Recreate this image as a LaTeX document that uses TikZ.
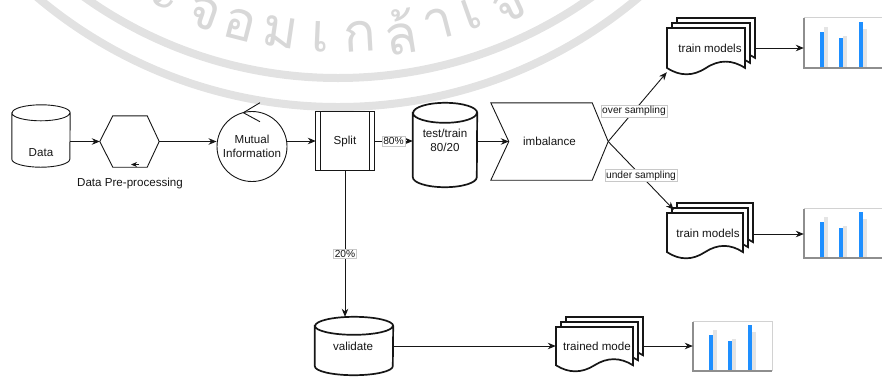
\documentclass[tikz,border=0pt]{standalone}
\usepackage{fontspec}
\setmainfont{Liberation Sans}
\newfontfamily\thaifont[Script=Thai]{Loma}
\usetikzlibrary{arrows.meta,calc}

\definecolor{ink}{HTML}{161616}
\definecolor{wmgray}{HTML}{E2E2E2}
\definecolor{wmtext}{HTML}{D8D8D8}
\definecolor{barblue}{HTML}{1E8FFF}
\definecolor{bargray}{HTML}{E4E4E4}
\definecolor{axisgray}{HTML}{8E8E8E}
\definecolor{framegray}{HTML}{D2D2D2}
\definecolor{lblframe}{HTML}{C8C8C8}

\tikzset{
  box/.style 2 args={rectangle, inner sep=0pt, minimum width=#1, minimum height=#2},
  txt/.style={inner sep=0pt, font=\fontsize{11.6}{14}\selectfont, text=ink, align=center},
  lbl/.style={fill=white, draw=lblframe, line width=0.5pt, inner sep=1.3pt,
              font=\fontsize{10.2}{12}\selectfont, text=ink},
  conn/.style={draw=ink, line width=0.9pt, -{Stealth[length=8pt,width=6.5pt]}},
  thinline/.style={draw=ink, line width=0.9pt},
  boldline/.style={draw=ink, line width=1.7pt, fill=white},
  wmletter/.style={inner sep=0pt, text=wmtext, font=\thaifont\fontsize{54}{60}\selectfont},
}

% vertical cylinder around a named box: style, node, x radius, y radius
\newcommand\cylinderline[4]{%
  \draw[#1] ([yshift=-#4pt]#2.north west) -- ([yshift=#4pt]#2.south west)
    arc[start angle=180,end angle=360,x radius=#3,y radius=#4]
    -- ([yshift=-#4pt]#2.north east)
    arc[start angle=0,end angle=180,x radius=#3,y radius=#4] -- cycle
    ([yshift=-#4pt]#2.north west) arc[start angle=180,end angle=360,x radius=#3,y radius=#4];}

% one sheet with a wavy lower edge: left, top, width, height (top-down units)
\newcommand\docsheet[4]{%
  \draw[boldline] ({#1},{-(#2)}) -- ({#1+#3},{-(#2)}) -- ({#1+#3},{-(#2+0.85*#4)})
    .. controls ({#1+0.8333*#3},{-(#2+0.67*#4)}) and ({#1+0.6667*#3},{-(#2+0.67*#4)}) .. ({#1+0.5*#3},{-(#2+0.85*#4)})
    .. controls ({#1+0.3333*#3},{-(#2+1.03*#4)}) and ({#1+0.1667*#3},{-(#2+1.03*#4)}) .. ({#1},{-(#2+0.85*#4)})
    -- cycle;}
\newcommand\sheetstack[4]{%
  \docsheet{#1+10}{#2-10}{#3}{#4}\docsheet{#1+5}{#2-5}{#3}{#4}\docsheet{#1}{#2}{#3}{#4}}

% small bar chart inside a named box
\newcommand\barchart[1]{%
  \draw[framegray, line width=0.8pt] (#1.north west) -- (#1.north east) -- (#1.south east);
  \fill[bargray] ($(#1.south west)+(20,0)$) rectangle ++(4,41);
  \fill[bargray] ($(#1.south west)+(39,0)$) rectangle ++(4,32);
  \fill[bargray] ($(#1.south west)+(59,0)$) rectangle ++(4,39);
  \fill[barblue] ($(#1.south west)+(16,0)$) rectangle ++(4,36);
  \fill[barblue] ($(#1.south west)+(35,0)$) rectangle ++(4,30);
  \fill[barblue] ($(#1.south west)+(55,0)$) rectangle ++(4,46);
  \draw[axisgray, line width=1.6pt] (#1.north west) -- (#1.south west) -- (#1.south east);}

\begin{document}
\begin{tikzpicture}[x=1pt, y=1pt]
\useasboundingbox (0,0) rectangle (882,-384);

% university seal in the background
\begin{scope}
  \clip (0,0) rectangle (882,-384);
  \coordinate (seal) at (338,360);
  \draw[wmgray, line width=8pt] (seal) circle[radius=438];
  \draw[wmgray, line width=8pt] (seal) circle[radius=467];
  \foreach \ang/\ch [count=\i] in {-32/ร, -25.8/ะ, -19.6/จ, -14.3/อ, -8.4/ม, -2.6/เ, 3.2/ก, 9.0/ล้, 14.6/า, 19.6/เ, 25.1/จ้, 30.5/า}
    \node[wmletter, rotate=\ang] (seal-\i) at ($(seal)+({-90+\ang}:397)$) {\ch};
\end{scope}

% shapes
\node[box={58pt}{62pt}] (data) at (41,-136) {};
\cylinderline{thinline}{data}{29}{8}
\node[txt] (data-t) at (41,-153) {Data};

\node[box={59pt}{51pt}] (hex) at (129.5,-141.5) {};
\draw[thinline] (hex.west) -- ([xshift=13pt]hex.north west) -- ([xshift=-12pt]hex.north east)
  -- (hex.east) -- ([xshift=-12pt]hex.south east) -- ([xshift=13pt]hex.south west) -- cycle;
\draw[draw=ink, line width=0.6pt, -{Stealth[length=6pt,width=5pt]}] (139,-164.5) -- (131,-164.5);
\node[txt] (hex-t) at (130,-183) {Data Pre-processing};

\node[circle, thinline, minimum size=70pt, inner sep=0pt, txt] (mi) at (252,-146.5) {Mutual\\Information};
\draw[thinline] (260,-102.7) -- (243.3,-112.7) -- (260,-121.7);

\node[box={58pt}{58pt}, txt] (split) at (345,-141) {Split};
\draw[thinline] (split.north west) rectangle (split.south east);
\draw[thinline] ([xshift=5pt]split.north west) -- ([xshift=5pt]split.south west);
\draw[thinline] ([xshift=-5pt]split.north east) -- ([xshift=-5pt]split.south east);

\node[box={64pt}{84pt}] (tt) at (445,-145) {};
\cylinderline{boldline}{tt}{32}{10}
\node[txt] (tt-t) at (445,-140) {test/train\\80/20};

\node[box={117pt}{77pt}, txt] (imb) at (549.5,-141.5) {imbalance};
\draw[thinline] (imb.north west) -- ([xshift=-16pt]imb.north east) -- (imb.east)
  -- ([xshift=-16pt]imb.south east) -- (imb.south west) -- ([xshift=18pt]imb.west) -- cycle;

\node[box={78pt}{58pt}] (val) at (354,-346) {};
\cylinderline{boldline}{val}{39}{9}
\node[txt] (val-t) at (353,-346) {validate};

\sheetstack{667}{28}{78}{47}
\node[box={78pt}{47pt}] (tm1) at (706,-51.5) {};
\node[txt] (tm1-t) at (710,-48) {train models};

\sheetstack{667}{213}{76}{46}
\node[box={76pt}{46pt}] (tm2) at (705,-236) {};
\node[txt] (tm2-t) at (708,-233) {train models};

\sheetstack{556}{327}{77}{45}
\node[box={77pt}{45pt}] (trn) at (594.5,-349.5) {};
\node[txt] (trn-t) at (597,-346) {trained mode};

\node[box={79pt}{50pt}] (ch1) at (843.5,-43) {};
\barchart{ch1}
\node[box={79pt}{49pt}] (ch2) at (843.5,-233.5) {};
\barchart{ch2}
\node[box={79pt}{49pt}] (ch3) at (732.5,-346.5) {};
\barchart{ch3}

% connectors
\draw[conn] ([yshift=-5.5pt]data.east) -- (hex.west);
\draw[conn] (hex.east) -- (hex.east -| mi.west);
\draw[conn] (split.west -| mi.east) -- (split.west);
\draw[conn] (split.east) -- (split.east -| tt.west) node[lbl, midway] (l80) {80\%};
\draw[conn] (tt.east |- imb.west) -- ([xshift=18pt]imb.west);
\draw[conn] (imb.east) -- ([yshift=3pt]tm1.south west) node[lbl, pos=0.44] (lover) {over sampling};
\draw[conn] (imb.east) -- ([shift={(7pt,3pt)}]tm2.north west) node[lbl, pos=0.5] (lunder) {under sampling};
\draw[conn] ($(tm1.east)+(9,3.5)$) -- ($(ch1.west)+(0,-5)$);
\draw[conn] ($(tm2.east)+(10,2)$) -- ($(ch2.west)+(0,-0.5)$);
\draw[conn] (split.south) -- (split.south |- val.north) node[lbl, pos=0.57] (l20) {20\%};
\draw[conn] (val.east) -- (val.east -| trn.west);
\draw[conn] ($(trn.east)+(10,3.5)$) -- ($(ch3.west)+(0,0.5)$);
\end{tikzpicture}
\end{document}
